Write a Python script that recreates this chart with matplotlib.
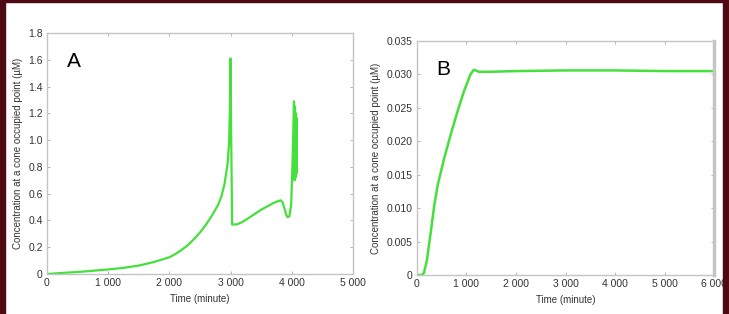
import matplotlib
matplotlib.use("Agg")
import matplotlib.pyplot as plt
from matplotlib.patches import Rectangle

plt.rcParams['font.family'] = ['Liberation Sans', 'DejaVu Sans']

# Panel A data
time_a = [0, 250, 500, 750, 1000, 1250, 1500, 1750, 2000, 2100, 2200, 2300, 2400, 2500,
          2600, 2700, 2800, 2850, 2900, 2950, 2975, 2990, 2998, 3008, 3025, 3100, 3200,
          3300, 3400, 3500, 3600, 3700, 3780, 3820, 3850, 3880, 3910, 3930, 3960, 3990,
          4010, 4036, 4045, 4052, 4060, 4068, 4076, 4085]
conc_a = [0.0, 0.008, 0.015, 0.024, 0.034, 0.046, 0.063, 0.09, 0.125, 0.15, 0.18, 0.215,
          0.26, 0.31, 0.37, 0.44, 0.52, 0.58, 0.67, 0.82, 0.98, 1.25, 1.61, 1.1, 0.37,
          0.37, 0.39, 0.42, 0.45, 0.48, 0.505, 0.53, 0.545, 0.55, 0.535, 0.49, 0.44,
          0.425, 0.43, 0.52, 0.8, 1.29, 0.7, 1.25, 0.72, 1.2, 0.75, 1.16]

# Panel B data
time_b = [0, 100, 140, 200, 280, 350, 420, 550, 700, 820, 950, 1080, 1150, 1250, 1500,
          2000, 3000, 4000, 5000, 6000]
conc_b = [0.0, 0.0, 0.0003, 0.0022, 0.0065, 0.0105, 0.0135, 0.0175, 0.0215, 0.0245,
          0.0275, 0.0300, 0.0307, 0.0304, 0.0304, 0.0305, 0.0306, 0.0306, 0.0305, 0.0305]

xticks_a = [0, 1000, 2000, 3000, 4000, 5000]
xlabels_a = ['0', '1 000', '2 000', '3 000', '4 000', '5 000']
yticks_a = [0, 0.2, 0.4, 0.6, 0.8, 1.0, 1.2, 1.4, 1.6, 1.8]
ylabels_a = ['0', '0.2', '0.4', '0.6', '0.8', '1.0', '1.2', '1.4', '1.6', '1.8']

xticks_b = [0, 1000, 2000, 3000, 4000, 5000, 6000]
xlabels_b = ['0', '1 000', '2 000', '3 000', '4 000', '5 000', '6 000']
yticks_b = [0, 0.005, 0.010, 0.015, 0.020, 0.025, 0.030, 0.035]
ylabels_b = ['0', '0.005', '0.010', '0.015', '0.020', '0.025', '0.030', '0.035']

green = '#45e03c'
txt = '#333333'
spine_c = '#c4c4c4'

fig = plt.figure(figsize=(7.29, 3.14), dpi=100)
fig.patch.set_facecolor('white')

def style(ax, xt, xl, yt, yl, xlim, ylim, letter):
    ax.set_xlim(*xlim)
    ax.set_ylim(*ylim)
    ax.set_xticks(xt)
    ax.set_xticklabels(xl)
    ax.set_yticks(yt)
    ax.set_yticklabels(yl)
    ax.tick_params(direction='in', length=2.5, width=0.6, color='#aaaaaa',
                   labelsize=7.5, labelcolor=txt, top=True, right=True, pad=3)
    for s in ax.spines.values():
        s.set_color(spine_c)
        s.set_linewidth(1.0)
    ax.set_xlabel('Time (minute)', fontsize=7, color=txt, labelpad=4)
    ax.set_ylabel('Concentration at a cone occupied point (µM)', fontsize=7, color=txt, labelpad=4)
    ax.text(0.065, 0.88, letter, transform=ax.transAxes, fontsize=15, color='black',
            va='center', ha='left')

axA = fig.add_axes([47/729, 1-274/314, 306/729, 241/314])
axA.plot(time_a, conc_a, color=green, lw=1.6, solid_joinstyle='round')
style(axA, xticks_a, xlabels_a, yticks_a, ylabels_a, (0, 5000), (0, 1.8), 'A')

axB = fig.add_axes([417/729, 1-275/314, 297/729, 234/314])
axB.plot(time_b, conc_b, color=green, lw=1.8, solid_joinstyle='round')
style(axB, xticks_b, xlabels_b, yticks_b, ylabels_b, (0, 6000), (0, 0.035), 'B')
axB.spines['right'].set_linewidth(2.5)

# dark maroon frame
frame = '#4d0a12'
fig.patches.append(Rectangle((0, 0), 5/729, 1, transform=fig.transFigure, color=frame, zorder=10))
fig.patches.append(Rectangle((0, 1-2/314), 1, 2/314, transform=fig.transFigure, color=frame, zorder=10))
fig.patches.append(Rectangle((723/729, 0), 6/729, 1, transform=fig.transFigure, color=frame, zorder=10))

fig.savefig('out.png', dpi=100)
